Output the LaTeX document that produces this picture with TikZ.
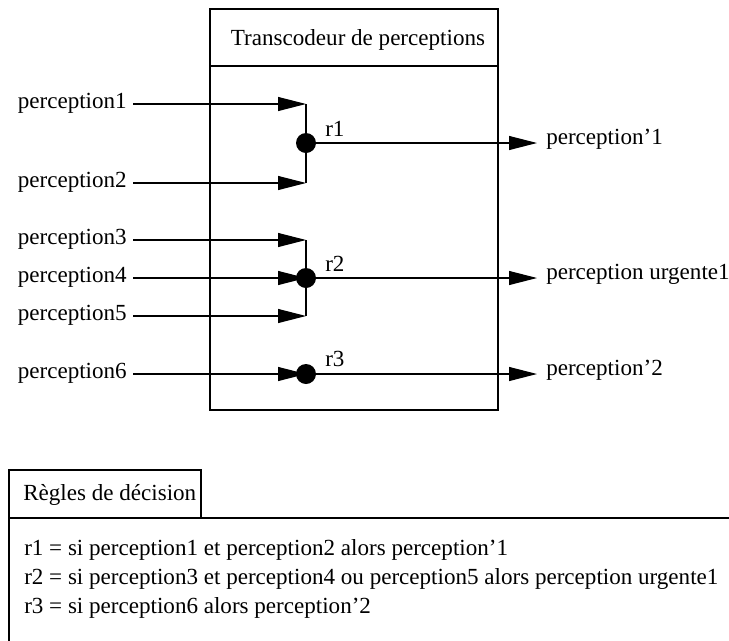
\documentclass[tikz,border=0pt]{standalone}
\usepackage{fontspec}
\setmainfont{Liberation Serif}
\usetikzlibrary{arrows.meta}
\begin{document}
\begin{tikzpicture}[x=0.75pt,y=-0.75pt,
  every node/.style={font=\fontsize{17.3}{20.8}\selectfont},
  wire/.style={line width=0.8pt},
  flow/.style={wire,-{Triangle[length=21pt,width=10.5pt]}},
  inlabel/.style={anchor=east,inner xsep=4.5pt,inner ysep=0pt,text height=0.9em,text depth=0.19em},
  outlabel/.style={anchor=west,inner sep=0pt},
  rlabel/.style={anchor=west,inner sep=0pt},
  textline/.style={anchor=west,inner sep=0pt},
  junction/.style={circle,fill=black,inner sep=0pt,minimum size=15pt},
  frame/.style={draw,line width=0.8pt}]
\useasboundingbox (0,0) rectangle (729,640);
\clip (0,0) rectangle (729,640);

% transcoder block with its header
\draw[frame] (210,9) rectangle (498,410);
\draw[frame] (210,66) -- (498,66);
\node (title) at (358,40) {Transcodeur de perceptions};

% input perceptions
\node[inlabel] (p1) at (133,104) {perception1};
\node[inlabel] (p2) at (133,183) {perception2};
\node[inlabel] (p3) at (133,240) {perception3};
\node[inlabel] (p4) at (133,278) {perception4};
\node[inlabel] (p5) at (133,316) {perception5};
\node[inlabel] (p6) at (133,374) {perception6};

\coordinate (j1) at (306,104);
\coordinate (j2) at (306,183);
\coordinate (j3) at (306,240);
\coordinate (j4) at (306,278);
\coordinate (j5) at (306,316);
\coordinate (j6) at (306,374);

\foreach \i in {1,...,6} \draw[flow] (p\i.east) -- (j\i);

% rule collectors
\draw[wire] (j1) -- (j2);
\draw[wire] (j3) -- (j5);

\node[junction] (r1) at (306,143) {};
\node[junction] (r2) at (306,278) {};
\node[junction] (r3) at (306,374) {};

\node[rlabel] (l1) at (325,129) {r1};
\node[rlabel] (l2) at (325,264) {r2};
\node[rlabel] (l3) at (325,359) {r3};

% outputs
\coordinate (o1) at (537,143);
\coordinate (o2) at (537,278);
\coordinate (o3) at (537,374);
\draw[flow] (r1) -- (o1);
\draw[flow] (r2) -- (o2);
\draw[flow] (r3) -- (o3);

\node[outlabel] (q1) at (546,139) {perception'1};
\node[outlabel] (q2) at (546,274) {perception urgente1};
\node[outlabel] (q3) at (546,370) {perception'2};

% decision rules panel
\draw[frame] (9,470) rectangle (201,518);
\node[textline] (rulestitle) at (23,495) {Règles de décision};
\draw[frame] (9,518) rectangle (760,680);
\node[textline] (rule1) at (24,550) {r1 = si perception1 et perception2 alors perception'1};
\node[textline] (rule2) at (24,579) {r2 = si perception3 et perception4 ou perception5 alors perception urgente1};
\node[textline] (rule3) at (24,608) {r3 = si perception6 alors perception'2};
\end{tikzpicture}
\end{document}
